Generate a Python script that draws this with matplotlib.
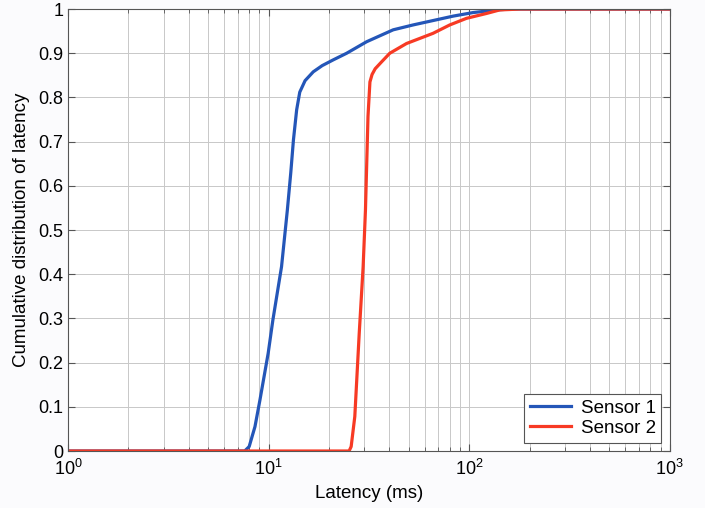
import matplotlib
matplotlib.use("Agg")
import matplotlib.pyplot as plt
from matplotlib.ticker import LogLocator, NullFormatter
import numpy as np

# values (latency in ms, cumulative fraction)
s1_lat = [1, 7.6, 8.0, 8.55, 9.05, 9.95, 10.5, 11.6, 12.4, 12.9, 13.3, 13.8, 14.3, 15.2,
          16.7, 18.5, 21.0, 24.5, 30.8, 41.8, 52.5, 66.1, 83.2, 104.5, 137, 160, 1000]
s1_cdf = [0, 0, 0.01, 0.055, 0.115, 0.221, 0.296, 0.417, 0.545, 0.630, 0.704, 0.772, 0.812, 0.838,
          0.858, 0.872, 0.885, 0.900, 0.926, 0.953, 0.964, 0.974, 0.984, 0.992, 0.998, 1.0, 1.0]

s2_lat = [1, 25.2, 25.8, 26.9, 28.3, 29.6, 30.4, 31.3, 32.0, 32.8, 34.0, 36.5, 40.2, 48.7,
          66, 80, 97, 122, 142, 180, 1000]
s2_cdf = [0, 0, 0.01, 0.078, 0.266, 0.417, 0.545, 0.757, 0.835, 0.852, 0.865, 0.880, 0.900, 0.922,
          0.945, 0.964, 0.979, 0.990, 0.998, 1.0, 1.0]

plt.rcParams['font.family'] = ['Liberation Sans', 'DejaVu Sans']
plt.rcParams['mathtext.default'] = 'regular'

fig = plt.figure(figsize=(7.05, 5.08), dpi=100, facecolor='#fbfbfd')
ax = fig.add_axes([0.0965, 0.1122, 0.8535, 0.8700])

ax.plot(s1_lat, s1_cdf, color='#2456b8', lw=2.3, label='Sensor 1')
ax.plot(s2_lat, s2_cdf, color='#f73a24', lw=2.3, label='Sensor 2')

ax.set_xscale('log')
ax.set_xlim(1, 1000)
ax.set_ylim(0, 1)
ax.set_yticks(np.arange(0, 1.01, 0.1))
ax.set_yticklabels(['0', '0.1', '0.2', '0.3', '0.4', '0.5', '0.6', '0.7', '0.8', '0.9', '1'])
ax.xaxis.set_minor_locator(LogLocator(base=10, subs=np.arange(2, 10)))
ax.xaxis.set_minor_formatter(NullFormatter())

ax.grid(True, which='both', color='#c8c8c8', lw=0.7)
ax.set_axisbelow(True)
ax.tick_params(which='both', direction='in', top=True, right=True, labelsize=13, color='#555555')
ax.tick_params(axis='x', pad=6)
ax.tick_params(which='major', length=5)
ax.tick_params(which='minor', length=3)
for sp in ax.spines.values():
    sp.set_color('#555555')

ax.set_xlabel('Latency (ms)', fontsize=13.5)
ax.set_ylabel('Cumulative distribution of latency', fontsize=13.5, labelpad=6)

leg = ax.legend(loc='lower right', fontsize=13.5, fancybox=False, framealpha=1,
                edgecolor='#555555', handlelength=2.2, borderpad=0.3, labelspacing=0.15,
                borderaxespad=0.45, handletextpad=0.5)
leg.get_frame().set_linewidth(0.8)

fig.savefig('out.png', dpi=100, facecolor=fig.get_facecolor())
